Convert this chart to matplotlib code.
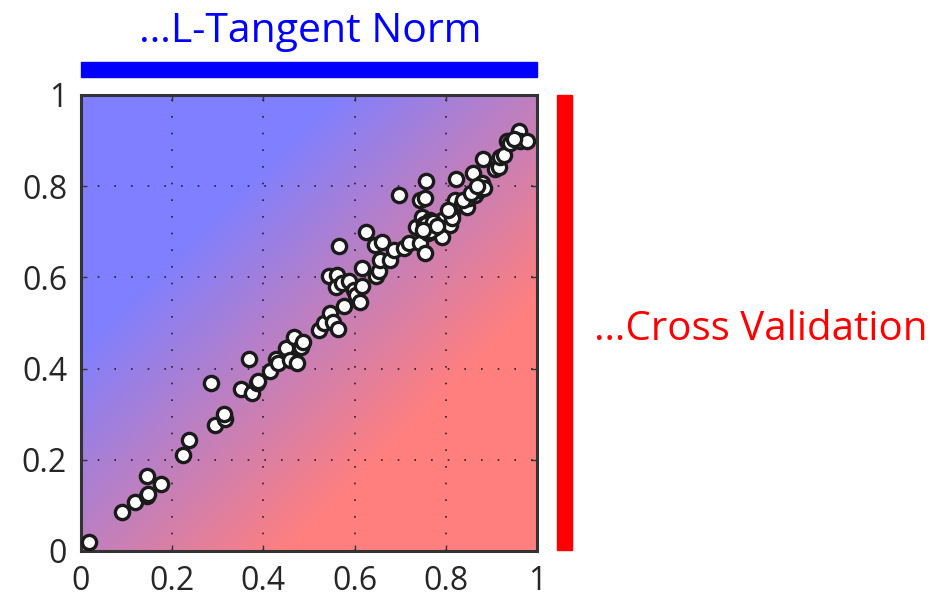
import numpy as np
import matplotlib.pyplot as plt
from matplotlib.colors import LinearSegmentedColormap
from matplotlib.patches import Rectangle

# regularization parameter picked by each method (x: L-tangent norm, y: cross validation)
ltn = [0.017, 0.090, 0.118, 0.145, 0.146, 0.145, 0.175, 0.224, 0.237, 0.285,
       0.293, 0.315, 0.314, 0.352, 0.368, 0.375, 0.386, 0.388, 0.414, 0.428,
       0.433, 0.449, 0.458, 0.468, 0.474, 0.482, 0.487, 0.523, 0.532, 0.547,
       0.553, 0.563, 0.566, 0.545, 0.561, 0.560, 0.572, 0.576, 0.587, 0.598,
       0.604, 0.616, 0.613, 0.616, 0.624, 0.648, 0.653, 0.655, 0.645, 0.660,
       0.678, 0.686, 0.697, 0.708, 0.719, 0.735, 0.744, 0.755, 0.757, 0.748,
       0.743, 0.755, 0.759, 0.766, 0.773, 0.785, 0.792, 0.792, 0.810, 0.814,
       0.821, 0.823, 0.836, 0.846, 0.850, 0.860, 0.865, 0.872, 0.879, 0.883,
       0.882, 0.909, 0.916, 0.920, 0.927, 0.934, 0.942, 0.960, 0.963, 0.978,
       0.950, 0.752, 0.762, 0.770, 0.760, 0.775, 0.768, 0.813, 0.806, 0.838,
       0.855, 0.868, 0.757, 0.765, 0.772, 0.750, 0.780]
cv = [0.019, 0.086, 0.108, 0.121, 0.124, 0.165, 0.146, 0.211, 0.243, 0.368,
      0.277, 0.289, 0.300, 0.355, 0.422, 0.346, 0.369, 0.372, 0.395, 0.420,
      0.413, 0.446, 0.419, 0.470, 0.412, 0.448, 0.459, 0.485, 0.499, 0.521,
      0.503, 0.486, 0.669, 0.603, 0.605, 0.580, 0.587, 0.537, 0.591, 0.572,
      0.561, 0.581, 0.545, 0.620, 0.700, 0.602, 0.613, 0.638, 0.671, 0.678,
      0.638, 0.660, 0.781, 0.664, 0.675, 0.711, 0.770, 0.773, 0.811, 0.733,
      0.675, 0.653, 0.711, 0.726, 0.704, 0.719, 0.689, 0.726, 0.715, 0.740,
      0.770, 0.815, 0.762, 0.755, 0.773, 0.830, 0.781, 0.792, 0.806, 0.795,
      0.859, 0.837, 0.842, 0.863, 0.868, 0.898, 0.894, 0.920, 0.898, 0.900,
      0.903, 0.718, 0.705, 0.715, 0.698, 0.708, 0.722, 0.731, 0.748, 0.770,
      0.785, 0.800, 0.716, 0.702, 0.722, 0.705, 0.712]

ticks = [0, 0.2, 0.4, 0.6, 0.8, 1]
tick_labels = ['0', '0.2', '0.4', '0.6', '0.8', '1']

plt.rcParams['font.family'] = ['Open Sans', 'DejaVu Sans']

fig = plt.figure(figsize=(9.42, 6), dpi=100)
ax = fig.add_axes([0.086, 0.0817, 0.484, 0.76])

# blue above the diagonal, red below it
g = np.linspace(0, 1, 400)
gx, gy = np.meshgrid(g, g)
cmap = LinearSegmentedColormap.from_list('br', ['#7f7fff', '#ff7f7f'])
ax.imshow(gx - gy, origin='lower', extent=[0, 1, 0, 1], cmap=cmap,
          vmin=-0.45, vmax=0.45, aspect='auto', zorder=0)

ax.scatter(ltn, cv, s=105, facecolor='white', edgecolor='#1a1a1a',
           linewidths=2.4, zorder=3, clip_on=False)

ax.set_xlim(0, 1)
ax.set_ylim(0, 1)
ax.set_xticks(ticks)
ax.set_xticklabels(tick_labels)
ax.set_yticks(ticks)
ax.set_yticklabels(tick_labels)
ax.tick_params(direction='in', length=4, width=1, color='#333333',
               labelcolor='#262626', labelsize=23, top=True, right=True)
ax.tick_params(axis='x', pad=10)
ax.tick_params(axis='y', pad=10)
ax.grid(True, linestyle=(0, (1, 9)), color='#222222', linewidth=1.2)
for sp in ax.spines.values():
    sp.set_linewidth(2.2)
    sp.set_color('#333333')

# bars marking which method is on which axis
fig.patches.append(Rectangle((81 / 942, 1 - 77 / 600), 456 / 942, 15 / 600,
                             transform=fig.transFigure, color='#0000ff'))
fig.patches.append(Rectangle((557 / 942, 1 - 550 / 600), 15 / 942, 455 / 600,
                             transform=fig.transFigure, color='#ff0000'))
fig.text(310 / 942, 1 - 42 / 600, '\u2026L-Tangent Norm', color='#0000ff',
         fontsize=29.5, ha='center', va='baseline')
fig.text(594 / 942, 1 - 340 / 600, '\u2026Cross Validation', color='#ff0000',
         fontsize=29, ha='left', va='baseline')

fig.savefig('out.png', dpi=100)
